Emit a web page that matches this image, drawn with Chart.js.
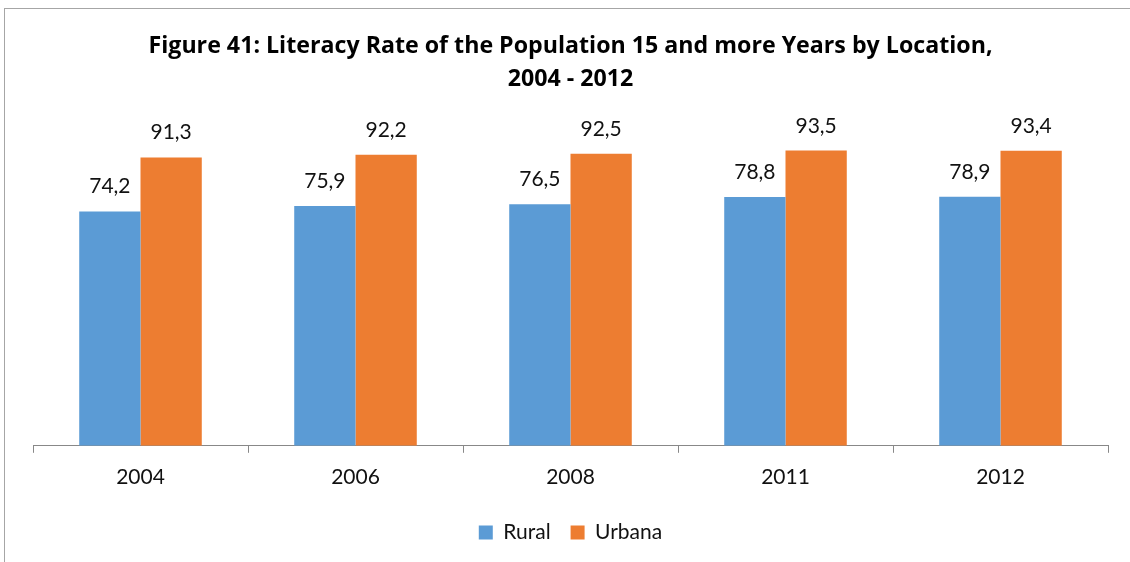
<!DOCTYPE html>
<html>
<head>
<meta charset="utf-8">
<script src="https://cdn.jsdelivr.net/npm/chart.js@4/dist/chart.umd.min.js"></script>
<style>
  html, body { margin: 0; padding: 0; background: #fff; }
  #wrap { width: 1130px; height: 562px; position: relative; }
</style>
</head>
<body>
<div id="wrap"><canvas id="c" width="1130" height="562"></canvas></div>
<script>
const titleLines = ["Figure 41: Literacy Rate of the Population 15 and more Years by Location,", "2004 - 2012"];
const categories = ["2004", "2006", "2008", "2011", "2012"];
const rural = [74.2, 75.9, 76.5, 78.8, 78.9];
const urbana = [91.3, 92.2, 92.5, 93.5, 93.4];
const seriesNames = ["Rural", "Urbana"];

const FONT = "Lato, 'Open Sans', sans-serif";
const TITLE_FONT = "'Open Sans', Lato, sans-serif";

const frame = {
  id: 'frame',
  beforeDraw(chart) {
    const ctx = chart.ctx;
    ctx.save();
    ctx.fillStyle = '#fff';
    ctx.fillRect(0, 0, chart.width, chart.height);
    ctx.strokeStyle = '#a6a6a6';
    ctx.lineWidth = 1;
    ctx.strokeRect(4.5, 8.5, 1140, 570);
    ctx.restore();
  }
};

const valueLabels = {
  id: 'valueLabels',
  afterDatasetsDraw(chart) {
    const ctx = chart.ctx;
    ctx.save();
    ctx.font = "21px " + FONT;
    ctx.fillStyle = '#111';
    ctx.textAlign = 'center';
    ctx.textBaseline = 'alphabetic';
    chart.data.datasets.forEach((ds, i) => {
      const meta = chart.getDatasetMeta(i);
      meta.data.forEach((el, j) => {
        const txt = ds.data[j].toFixed(1).replace('.', ',');
        ctx.fillText(txt, el.x, el.y - 18);
      });
    });
    ctx.restore();
  }
};

new Chart(document.getElementById('c'), {
  type: 'bar',
  data: {
    labels: categories,
    datasets: [
      { label: seriesNames[0], data: rural, backgroundColor: '#5B9BD5', barPercentage: 1, categoryPercentage: 0.57 },
      { label: seriesNames[1], data: urbana, backgroundColor: '#ED7D31', barPercentage: 1, categoryPercentage: 0.57 }
    ]
  },
  options: {
    responsive: false,
    animation: false,
    devicePixelRatio: 1,
    layout: { padding: { top: 30, left: 33, right: 22, bottom: 9 } },
    plugins: {
      title: {
        display: true,
        text: titleLines,
        color: '#000',
        font: { family: TITLE_FONT, size: 23.2, weight: 'bold', lineHeight: '33px' },
        padding: { top: 0, bottom: 34 }
      },
      legend: {
        display: true,
        position: 'bottom',
        labels: {
          boxWidth: 14,
          boxHeight: 14,
          color: '#111',
          font: { family: FONT, size: 21 },
          padding: 20
        }
      },
      tooltip: { enabled: false }
    },
    scales: {
      x: {
        grid: { display: true, drawOnChartArea: false, drawTicks: true, tickLength: 7, color: '#888', offset: true },
        border: { display: true, color: '#888', width: 1 },
        ticks: { color: '#111', font: { family: FONT, size: 21 }, padding: 12 }
      },
      y: {
        display: false,
        min: 0,
        max: 100
      }
    }
  },
  plugins: [frame, valueLabels]
});
</script>
</body>
</html>
